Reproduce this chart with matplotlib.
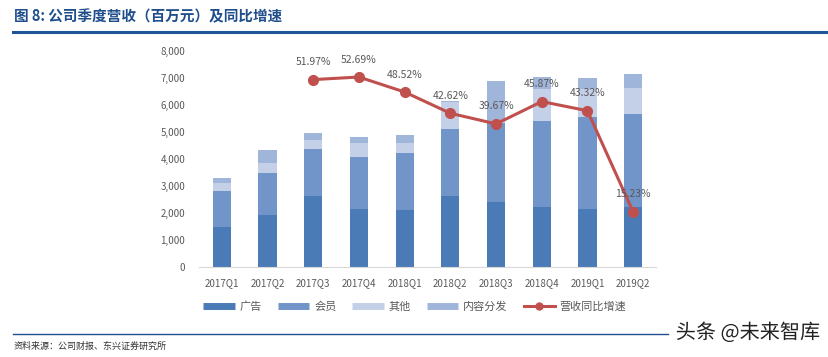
import matplotlib
matplotlib.use("Agg")
import matplotlib.pyplot as plt
import numpy as np
from matplotlib.lines import Line2D
import matplotlib.patheffects as pe

plt.rcParams['font.family'] = ['Noto Sans CJK SC', 'DejaVu Sans']

quarters = ["2017Q1", "2017Q2", "2017Q3", "2017Q4", "2018Q1",
            "2018Q2", "2018Q3", "2018Q4", "2019Q1", "2019Q2"]
ads = [1480, 1910, 2630, 2140, 2110, 2630, 2390, 2220, 2130, 2220]
members = [1320, 1570, 1720, 1930, 2090, 2460, 2920, 3180, 3430, 3420]
others = [290, 350, 340, 500, 390, 1000, 60, 1200, 1040, 970]
content = [210, 490, 250, 240, 300, 60, 1520, 440, 380, 520]
growth_q = ["2017Q3", "2017Q4", "2018Q1", "2018Q2", "2018Q3",
            "2018Q4", "2019Q1", "2019Q2"]
growth = [51.97, 52.69, 48.52, 42.62, 39.67, 45.87, 43.32, 15.23]

c_ads = "#4a7bb7"
c_mem = "#7194c9"
c_oth = "#c4d0e7"
c_con = "#a0b5da"
c_line = "#c0504d"
grey = "#595959"

fig = plt.figure(figsize=(8.29, 3.57), dpi=100)
ax = fig.add_axes([199/829, 1-266.7/357, 457/829, 216/357])
x = np.arange(len(quarters))
w = 0.4
b1 = np.array(ads)
b2 = b1 + np.array(members)
b3 = b2 + np.array(others)
ax.bar(x, ads, w, color=c_ads, label="广告")
ax.bar(x, members, w, bottom=b1, color=c_mem, label="会员")
ax.bar(x, others, w, bottom=b2, color=c_oth, label="其他")
ax.bar(x, content, w, bottom=b3, color=c_con, label="内容分发")
ax.set_xlim(-0.5, len(quarters) - 0.5)
ax.set_ylim(0, 8000)
ax.set_yticks(np.arange(0, 8001, 1000))
ax.set_yticklabels([f"{v:,}" for v in range(0, 8001, 1000)], fontsize=7, color=grey)
ax.set_xticks(x)
ax.set_xticklabels(quarters, fontsize=7, color=grey)
ax.tick_params(length=0, pad=8)
ax.tick_params(axis='y', pad=10)
for s in ["top", "right", "left"]:
    ax.spines[s].set_visible(False)
ax.spines["bottom"].set_color("#d9d9d9")

ax2 = ax.twinx()
gx = [quarters.index(q) for q in growth_q]
ax2.plot(gx, growth, color=c_line, lw=2.2, marker="o", ms=7)
ax2.set_ylim(0, 60)
ax2.axis("off")
for xi, g in zip(gx, growth):
    ax2.annotate(f"{g:.2f}%", (xi, g), xytext=(0, 9), textcoords="offset points",
                 ha="center", va="bottom", fontsize=7.5, color=grey)

handles = [Line2D([], [], color=c, lw=5, solid_capstyle="butt")
           for c in (c_ads, c_mem, c_oth, c_con)]
handles.append(Line2D([], [], color=c_line, lw=2.2, marker="o", ms=5))
labels = ["广告", "会员", "其他", "内容分发", "营收同比增速"]
fig.legend(handles, labels, loc="center", bbox_to_anchor=(415/829, 1-307/357),
           ncol=5, frameon=False, fontsize=8, handlelength=2.8, columnspacing=1.45,
           handletextpad=0.45, labelcolor=grey)

fig.text(14/829, 1-16/357, "图 8: 公司季度营收（百万元）及同比增速", fontsize=10.5,
         fontweight="bold", color="#1f4e8c", va="center", ha="left")
fig.add_artist(Line2D([13/829, 1.0], [1-32/357, 1-32/357], color="#1f5597", lw=2.2))
fig.add_artist(Line2D([13/829, 668/829], [1-334/357, 1-334/357], color="#1f4e8c", lw=1.0))
fig.text(14/829, 1-346/357, "资料来源：公司财报、东兴证券研究所", fontsize=6.5,
         color="#333333", va="center", ha="left", style="italic")
t = fig.text(820/829, 1-333/357, "头条 @未来智库", fontsize=14.5, color="#222222",
             va="center", ha="right")
t.set_path_effects([pe.withStroke(linewidth=3, foreground="white")])

fig.savefig("out.png", dpi=100)
